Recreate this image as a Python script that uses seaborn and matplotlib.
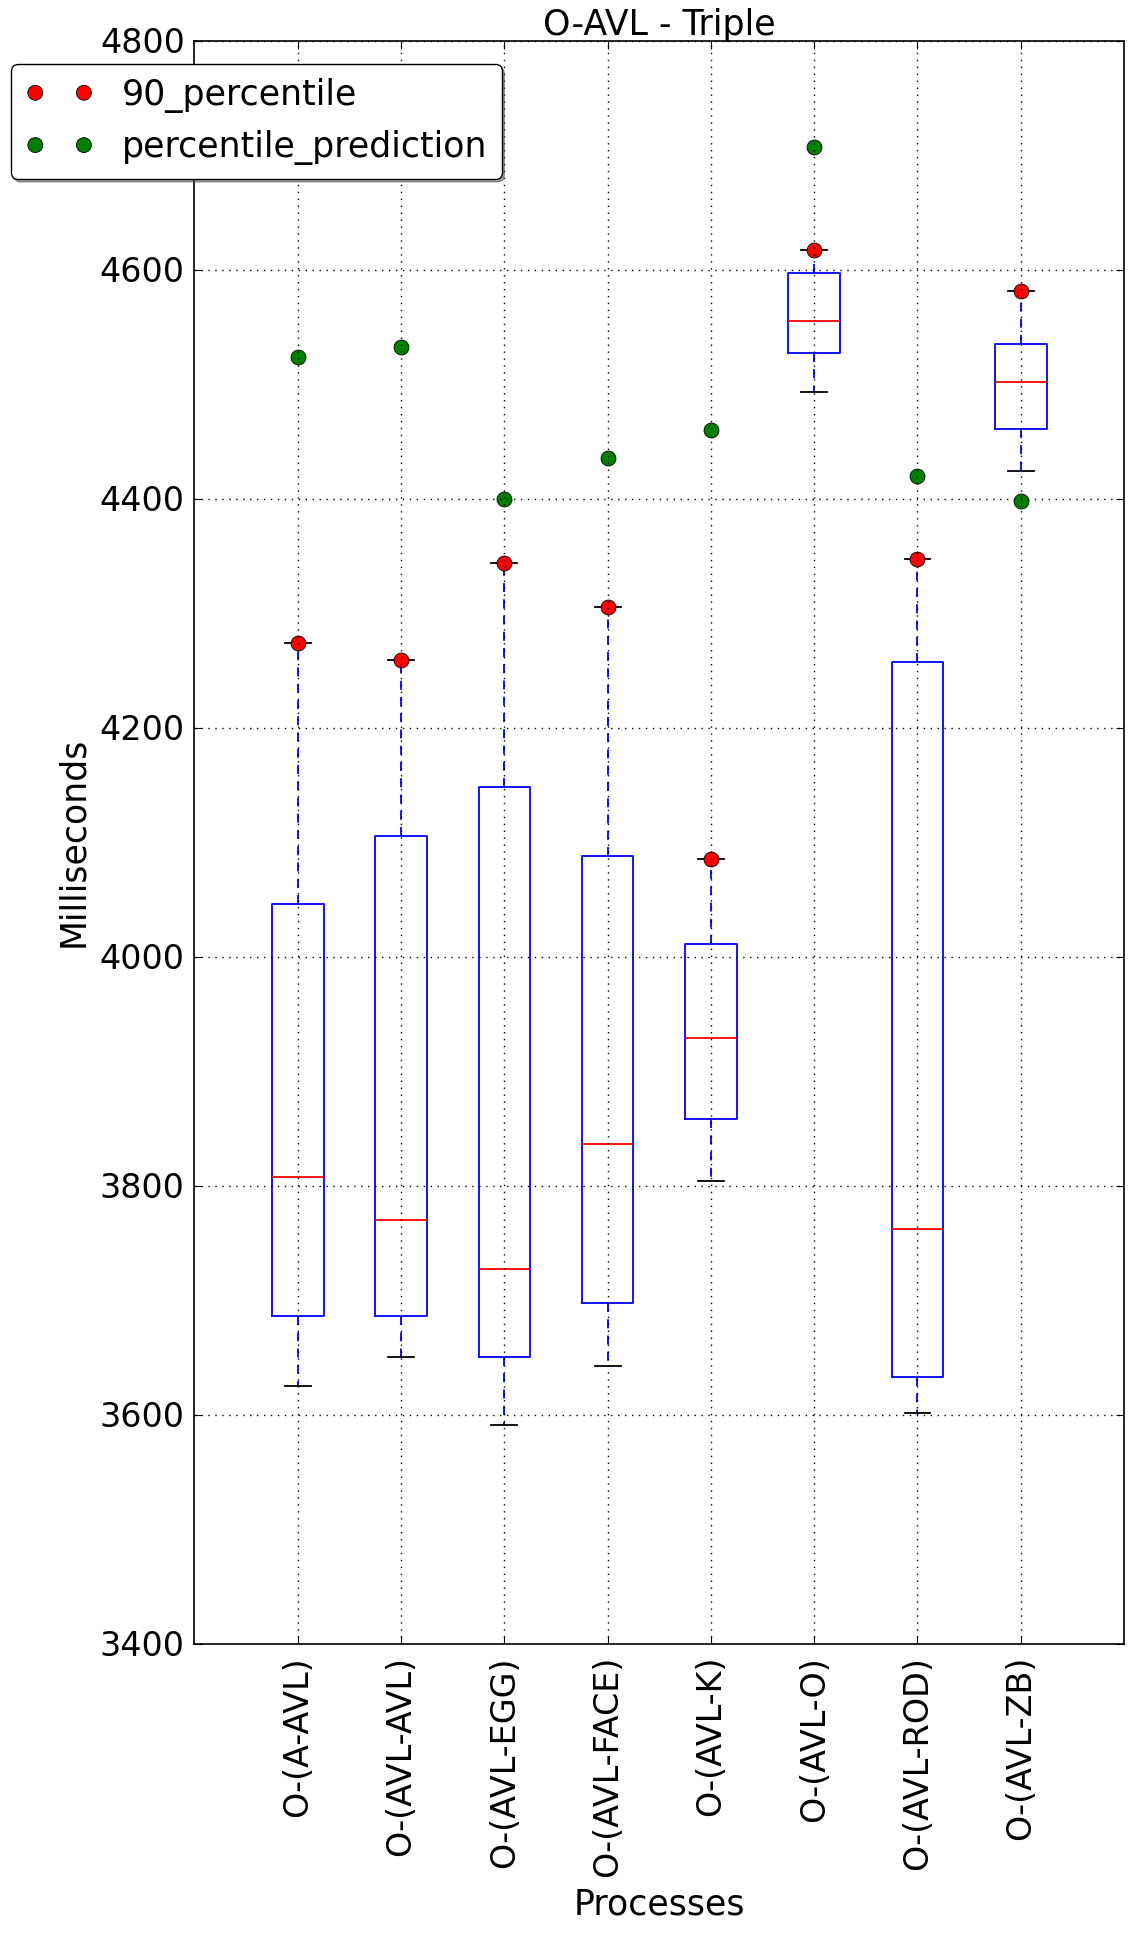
import numpy as np
import pandas as pd
import matplotlib
matplotlib.use("Agg")
import matplotlib.pyplot as plt
from matplotlib.collections import PathCollection
from matplotlib.legend_handler import HandlerPathCollection
import seaborn as sns

processes = ['O-(A-AVL)', 'O-(AVL-AVL)', 'O-(AVL-EGG)', 'O-(AVL-FACE)',
             'O-(AVL-K)', 'O-(AVL-O)', 'O-(AVL-ROD)', 'O-(AVL-ZB)']
whisker_low = [3625, 3650, 3591, 3642, 3804, 4493, 3601, 4424]
q1 = [3686, 3686, 3650, 3697, 3858, 4527, 3633, 4461]
median = [3807, 3770, 3727, 3836, 3929, 4555, 3762, 4502]
q3 = [4046, 4105, 4148, 4088, 4011, 4597, 4257, 4535]
whisker_high = [4274, 4259, 4344, 4305, 4085, 4617, 4347, 4581]
percentile_90 = [4274, 4259, 4344, 4305, 4085, 4617, 4347, 4581]
percentile_prediction = [4524, 4532, 4400, 4435, 4460, 4707, 4420, 4398]
yticks = [3400, 3600, 3800, 4000, 4200, 4400, 4600, 4800]

rows = []
for i, p in enumerate(processes):
    for v in (whisker_low[i], q1[i], median[i], q3[i], whisker_high[i]):
        rows.append({"process": p, "ms": v})
df = pd.DataFrame(rows)
pts = pd.DataFrame({"process": processes, "p90": percentile_90,
                    "pred": percentile_prediction})

plt.rcParams['font.family'] = ['DejaVu Sans']
fig = plt.figure(figsize=(11.33, 19.36), dpi=100)
fig.patch.set_facecolor('white')
ax = fig.add_axes([194.5 / 1133, 1 - 1643.5 / 1936, (1124 - 194.5) / 1133, (1643.5 - 40.5) / 1936])

sns.boxplot(data=df, x="process", y="ms", order=processes, whis=(0, 100),
            width=0.5, fill=False, showfliers=False, linewidth=1.3, ax=ax,
            boxprops=dict(color='blue', linewidth=1.3),
            whiskerprops=dict(color='blue', linestyle=(0, (5, 4)), linewidth=1.3),
            capprops=dict(color='black', linewidth=1.3),
            medianprops=dict(color='red', linewidth=1.3))

msize = 115
sns.scatterplot(data=pts, x="process", y="p90", color='red', s=msize,
                edgecolor='black', linewidth=0.6, zorder=2.1,
                label='90_percentile', ax=ax)
sns.scatterplot(data=pts, x="process", y="pred", color='#008000', s=msize,
                edgecolor='black', linewidth=0.6, zorder=2.1,
                label='percentile_prediction', ax=ax)

ax.set_xlim(-1, 8)
ax.set_ylim(3400, 4800)
ax.set_yticks(yticks)
ax.set_xticks(range(len(processes)))
ax.set_xticklabels(processes, rotation=90, fontsize=24)
ax.tick_params(axis='y', labelsize=24, pad=7)
ax.tick_params(axis='x', pad=9)
ax.tick_params(direction='in', length=6, top=True, right=True, color='black')
ax.set_axisbelow(False)
ax.grid(True, linestyle=(0, (1, 4)), color='black', linewidth=1.0)
for s in ax.spines.values():
    s.set_color('black')
    s.set_linewidth(1.2)
    s.set_visible(True)

ax.set_title('O-AVL - Triple', fontsize=25, pad=4)
ax.set_xlabel('Processes', fontsize=25, labelpad=7)
ax.set_ylabel('Milliseconds', fontsize=25, labelpad=7)

leg = ax.legend(loc='upper left', bbox_to_anchor=(11 / 1133, 1 - 64 / 1936),
                bbox_transform=fig.transFigure, borderaxespad=0, fontsize=25,
                scatterpoints=2, scatteryoffsets=[0.5], fancybox=True,
                shadow=True, frameon=True, borderpad=0.4, labelspacing=0.5,
                handlelength=2.0, handletextpad=0.8,
                handler_map={PathCollection: HandlerPathCollection(sizes=[msize, msize])})
leg.get_frame().set_edgecolor('black')
leg.get_frame().set_linewidth(1.0)
leg.get_frame().set_alpha(1.0)

fig.savefig('out.png', dpi=100, facecolor='white')
